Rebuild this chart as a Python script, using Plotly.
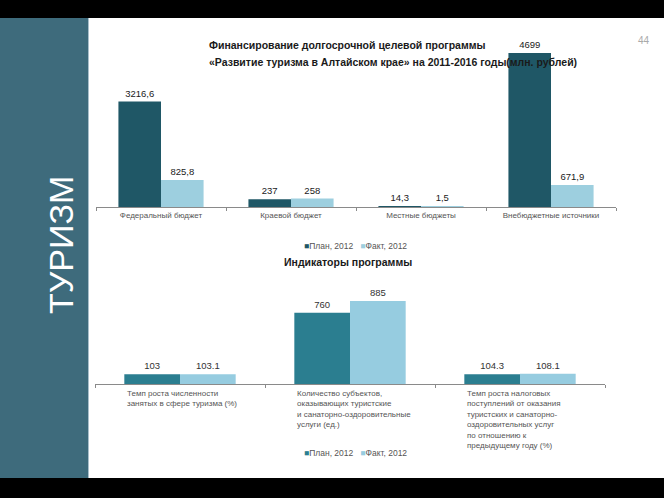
import plotly.graph_objects as go

W, H = 664, 498

# ---- data: top chart (financing, mln rubles)
fin_categories = ["Федеральный бюджет", "Краевой бюджет", "Местные бюджеты", "Внебюджетные источники"]
fin_plan = [3216.6, 237, 14.3, 4699]
fin_fact = [825.8, 258, 1.5, 671.9]
fin_plan_labels = ["3216,6", "237", "14,3", "4699"]
fin_fact_labels = ["825,8", "258", "1,5", "671,9"]

# ---- data: bottom chart (indicators)
ind_categories = [
    "Темп роста численности<br>занятых в сфере туризма (%)",
    "Количество субъектов,<br>оказывающих туристские<br>и санаторно-оздоровительные<br>услуги (ед.)",
    "Темп роста налоговых<br>поступлений от оказания<br>туристских и санаторно-<br>оздоровительных услуг<br>по отношению к<br>предыдущему году (%)",
]
ind_plan = [103, 760, 104.3]
ind_fact = [103.1, 885, 108.1]
ind_plan_labels = ["103", "760", "104.3"]
ind_fact_labels = ["103.1", "885", "108.1"]

series_names = ["План, 2012", "Факт, 2012"]
top_colors = ["#1F5766", "#9DCFDF"]
bot_colors = ["#2B7E90", "#96CCE0"]


def px(x):
    return x / W


def py(y):
    return 1 - y / H


FONT = "Liberation Sans"
fig = go.Figure()

lbl_font = dict(size=9.5, color="#1a1a1a")
# top chart
fig.add_trace(go.Bar(x=fin_categories, y=fin_plan, name=series_names[0], marker_color=top_colors[0],
                     text=fin_plan_labels, textposition="outside", cliponaxis=False, constraintext="none",
                     textfont=lbl_font, xaxis="x", yaxis="y", marker_line_width=0))
fig.add_trace(go.Bar(x=fin_categories, y=fin_fact, name=series_names[1], marker_color=top_colors[1],
                     text=fin_fact_labels, textposition="outside", cliponaxis=False, constraintext="none",
                     textfont=lbl_font, xaxis="x", yaxis="y", marker_line_width=0))
# bottom chart
fig.add_trace(go.Bar(x=ind_categories, y=ind_plan, name=series_names[0], marker_color=bot_colors[0],
                     text=ind_plan_labels, textposition="outside", cliponaxis=False, constraintext="none",
                     textfont=dict(size=9.5, color="#333"), xaxis="x2", yaxis="y2", marker_line_width=0))
fig.add_trace(go.Bar(x=ind_categories, y=ind_fact, name=series_names[1], marker_color=bot_colors[1],
                     text=ind_fact_labels, textposition="outside", cliponaxis=False, constraintext="none",
                     textfont=dict(size=9.5, color="#333"), xaxis="x2", yaxis="y2", marker_line_width=0))

axis_common = dict(showline=True, linecolor="#8a8a8a", linewidth=1, ticks="outside", tickson="boundaries",
                   ticklen=3, tickcolor="#8a8a8a", showgrid=False, zeroline=False)

fig.update_layout(
    width=W, height=H, margin=dict(l=0, r=0, t=0, b=0),
    paper_bgcolor="white", plot_bgcolor="rgba(0,0,0,0)",
    font=dict(family=FONT, color="#333"),
    barmode="group", bargap=0.345, bargroupgap=0, showlegend=False,
    xaxis=dict(domain=[px(96), px(616)], anchor="y",
               tickfont=dict(size=8, color="#555"), **axis_common),
    yaxis=dict(domain=[py(207), py(40)], range=[0, 4699 * 167 / 154], visible=False, anchor="x"),
    xaxis2=dict(domain=[px(95), px(605)], anchor="y2", showticklabels=False, **axis_common),
    yaxis2=dict(domain=[py(384), py(280)], range=[0, 885 * 104 / 83], visible=False, anchor="x2"),
)

shapes = [
    dict(type="rect", xref="paper", yref="paper", x0=0, x1=px(88), y0=py(478), y1=py(18),
         fillcolor="#3E6B7C", line_width=0, layer="below"),
    dict(type="line", xref="paper", yref="paper", x0=px(88.5), x1=px(88.5), y0=py(478), y1=py(18),
         line=dict(color="#A9BFCB", width=1), layer="below"),
    dict(type="rect", xref="paper", yref="paper", x0=0, x1=1, y0=py(18), y1=1,
         fillcolor="black", line_width=0, layer="above"),
    dict(type="rect", xref="paper", yref="paper", x0=0, x1=1, y0=0, y1=py(478),
         fillcolor="black", line_width=0, layer="above"),
]
fig.update_layout(shapes=shapes)


def legend_text(colors):
    parts = [f"<span style='color:{c}'>■</span>{n}" for c, n in zip(colors, series_names)]
    return "   ".join(parts)


annotations = [
    dict(text="ТУРИЗМ", x=px(40), y=py(245), xref="paper", yref="paper", showarrow=False,
         textangle=-90, font=dict(size=34, color="white", family=FONT)),
    dict(text="<b>Финансирование долгосрочной целевой программы</b>", x=px(207), y=py(45),
         xref="paper", yref="paper", xanchor="left", yanchor="middle", showarrow=False,
         font=dict(size=10.5, color="#1a1a1a")),
    dict(text="<b>«Развитие туризма в Алтайском крае» на 2011-2016 годы(млн. рублей)</b>", x=px(207), y=py(62),
         xref="paper", yref="paper", xanchor="left", yanchor="middle", showarrow=False,
         font=dict(size=10.5, color="#1a1a1a")),
    dict(text="<b>Индикаторы программы</b>", x=px(348), y=py(262), xref="paper", yref="paper",
         showarrow=False, font=dict(size=10.5, color="#1a1a1a")),
    dict(text="44", x=px(652), y=py(33), xref="paper", yref="paper", showarrow=False,
         font=dict(size=10, color="#aaaaaa")),
    dict(text=legend_text(top_colors), x=px(355), y=py(246), xref="paper", yref="paper", showarrow=False,
         font=dict(size=8.5, color="#555")),
    dict(text=legend_text(bot_colors), x=px(355), y=py(460), xref="paper", yref="paper", showarrow=False,
         font=dict(size=8.5, color="#555")),
]
for i, cat in enumerate(ind_categories):
    annotations.append(dict(text=cat, x=cat, y=0, xref="x2", yref="y2", xanchor="left", yanchor="top",
                            align="left", showarrow=False, xshift=-55, yshift=-3,
                            font=dict(size=8, color="#555")))
fig.update_layout(annotations=annotations)

fig.write_html("out.html", config={"displayModeBar": False},
               post_script="document.body.style.margin='0';document.body.style.overflow='hidden';")
